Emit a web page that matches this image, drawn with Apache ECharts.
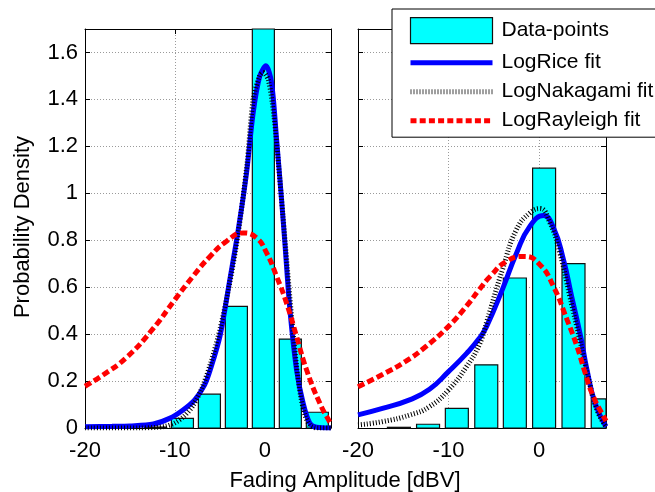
<!DOCTYPE html>
<html>
<head>
<meta charset="utf-8">
<script src="https://cdn.jsdelivr.net/npm/echarts@6/dist/echarts.min.js"></script>
<style>html,body{margin:0;padding:0;background:#fff;}#c{width:655px;height:492px;}</style>
</head>
<body>
<div id="c"></div>
<script>
// ---- data ----
var xTicks = [-20, -10, 0];
var yTicks = [0, 0.2, 0.4, 0.6, 0.8, 1, 1.2, 1.4, 1.6];

var leftBinCenters = [-12.17, -9.17, -6.17, -3.17, -0.17, 2.83, 5.83];
var leftBinHeights = [0.004, 0.041, 0.144, 0.518, 1.9, 0.379, 0.067];

var rightBinCenters = [-15.48, -12.26, -9.08, -5.83, -2.67, 0.56, 3.81, 7.04];
var rightBinHeights = [0.003, 0.016, 0.084, 0.269, 0.639, 1.107, 0.700, 0.124];

var leftRiceX = [-20, -17, -15, -12.4, -10.6, -9.1, -7.8, -6.7, -6.1, -5, -3.9, -2.96, -2.04, -1.3, -0.56, 0.11, 0.74, 1.3, 1.85, 2.22, 2.78, 3.52, 4.26, 5, 5.74, 7.35];
var leftRiceY = [0.005, 0.007, 0.009, 0.017, 0.041, 0.077, 0.12, 0.184, 0.245, 0.39, 0.632, 0.845, 1.087, 1.344, 1.50, 1.543, 1.472, 1.23, 0.974, 0.789, 0.504, 0.248, 0.105, 0.02, 0.003, 0];

var leftNakaX = [-20, -14, -12, -11, -10, -9, -8, -7, -6, -5, -4, -3, -2, -1.3, -0.6, -0.2, 0.4, 1.0, 1.5, 2.0, 2.5, 3.0, 3.5, 4.0, 4.5, 5.0, 5.5, 6, 7.35];
var leftNakaY = [0, 0, 0.003, 0.008, 0.022, 0.05, 0.095, 0.17, 0.28, 0.42, 0.6, 0.82, 1.12, 1.40, 1.5, 1.515, 1.48, 1.33, 1.13, 0.91, 0.68, 0.46, 0.27, 0.13, 0.05, 0.012, 0.002, 0, 0];

var leftRayX = [-20, -18, -15.4, -12.5, -10, -8, -6.1, -4.26, -2.41, -0.93, 0.19, 1.3, 2.41, 3.52, 4.63, 6.11, 7.2, 7.35];
var leftRayY = [0.178, 0.226, 0.30, 0.42, 0.547, 0.646, 0.731, 0.796, 0.831, 0.81, 0.746, 0.646, 0.532, 0.39, 0.248, 0.105, 0.027, 0.02];

var rightRiceX = [-20, -17.3, -14.3, -12.1, -10, -8, -6.6, -5.8, -4, -2.5, -1, 0.5, 1.6, 2.7, 3.6, 4.6, 5.3, 6.2, 7.4];
var rightRiceY = [0.056, 0.084, 0.12, 0.165, 0.24, 0.318, 0.382, 0.432, 0.595, 0.744, 0.86, 0.905, 0.853, 0.717, 0.561, 0.39, 0.248, 0.105, 0.006];

var rightNakaX = [-20, -17.3, -14.3, -12.1, -10, -8, -6.6, -5.8, -4, -2.5, -1, 0.1, 1.2, 2.3, 3.4, 4.5, 5.5, 6.4, 7.4];
var rightNakaY = [0.013, 0.027, 0.055, 0.091, 0.162, 0.262, 0.355, 0.45, 0.68, 0.845, 0.917, 0.935, 0.874, 0.746, 0.561, 0.376, 0.205, 0.077, 0.006];

var rightRayX = [-20, -17.3, -14.7, -12.5, -10, -8, -6.6, -5.4, -3.6, -1.6, 0.1, 1.6, 3.1, 4.2, 5.1, 6.0, 7.15, 7.4];
var rightRayY = [0.176, 0.228, 0.285, 0.347, 0.433, 0.52, 0.59, 0.646, 0.71, 0.731, 0.696, 0.603, 0.461, 0.347, 0.234, 0.134, 0.048, 0.03];

var legendNames = ['Data-points', 'LogRice fit', 'LogNakagami fit', 'LogRayleigh fit'];

// ---- helpers ----
function pairs(xs, ys) { return xs.map(function (x, i) { return [x, ys[i]]; }); }
var FONT = 'Liberation Sans, Arial, Helvetica, sans-serif';
var gridLine = { show: true, lineStyle: { color: '#9a9a9a', type: [1, 2], width: 1 } };
var axLine = { show: true, onZero: false, lineStyle: { color: '#000', width: 1 } };
var axTick = { show: true, inside: true, length: 5, lineStyle: { color: '#000' } };

function xAx(grid, max, pos, labels) {
  return {
    type: 'value', gridIndex: grid, min: -20, max: max, interval: 10, position: pos,
    axisLine: axLine, axisTick: axTick,
    axisLabel: labels ? {
      show: true, fontSize: 22, color: '#000', fontFamily: FONT, margin: 12,
      showMaxLabel: false,
      formatter: function (v) { return xTicks.indexOf(v) >= 0 ? String(v) : ''; }
    } : { show: false },
    splitLine: labels ? gridLine : { show: false }
  };
}
function yAx(grid, pos, labels, grids) {
  return {
    type: 'value', gridIndex: grid, min: 0, max: 1.7, interval: 0.2, position: pos,
    axisLine: axLine, axisTick: axTick,
    axisLabel: labels ? {
      show: true, fontSize: 22, color: '#000', fontFamily: FONT, margin: 7,
      showMaxLabel: false,
      formatter: function (v) {
        var r = Math.round(v * 10) / 10;
        return yTicks.indexOf(r) >= 0 ? String(r) : '';
      }
    } : { show: false },
    splitLine: grids ? gridLine : { show: false }
  };
}

var barFill = { fill: '#00FFFF', stroke: '#111', lineWidth: 1.2 };
function barSeries(xi, yi, cx, hy, binW) {
  return {
    name: 'Data-points', type: 'custom', xAxisIndex: xi, yAxisIndex: yi, z: 2,
    data: pairs(cx, hy),
    itemStyle: { color: '#00FFFF', borderColor: '#111', borderWidth: 1.2 },
    renderItem: function (params, api) {
      var c = api.value(0), h = api.value(1);
      var p1 = api.coord([c - binW / 2, h]);
      var p2 = api.coord([c + binW / 2, 0]);
      var cs = params.coordSys;
      var shape = echarts.graphic.clipRectByRect(
        { x: p1[0], y: p1[1], width: p2[0] - p1[0], height: p2[1] - p1[1] },
        { x: cs.x, y: cs.y, width: cs.width, height: cs.height });
      return shape && { type: 'rect', shape: shape, style: barFill };
    }
  };
}
function lineSeries(name, xi, yi, xs, ys, style, z, sm) {
  return { name: name, type: 'line', xAxisIndex: xi, yAxisIndex: yi, data: pairs(xs, ys),
    showSymbol: false, symbol: 'none', smooth: sm, clip: true, lineStyle: style, itemStyle: { color: style.color }, z: z };
}
var riceStyle = { color: '#0000FF', width: 5 };
var nakaStyle = { color: '#000000', width: 5, type: [1, 2], cap: 'butt' };
var rayStyle = { color: '#FF0000', width: 5, type: [7, 3.5], cap: 'butt' };
var hidden = { opacity: 0 };

var option = {
  animation: false,
  backgroundColor: '#fff',
  textStyle: { fontFamily: FONT },
  grid: [
    { left: 85, top: 29, width: 246, height: 399 },
    { left: 358, top: 29, width: 248, height: 399 }
  ],
  xAxis: [
    xAx(0, 7.35, 'bottom', true), xAx(0, 7.35, 'top', false),
    xAx(1, 7.4, 'bottom', true), xAx(1, 7.4, 'top', false)
  ],
  yAxis: [
    yAx(0, 'left', true, true), yAx(0, 'right', false, false),
    yAx(1, 'left', false, true), yAx(1, 'right', false, false)
  ],
  legend: {
    orient: 'vertical', left: 392, top: 9,
    itemWidth: 82, itemHeight: 26, itemGap: 8,
    padding: [8, 3, 6, 16],
    backgroundColor: '#fff', borderColor: '#000', borderWidth: 1, borderRadius: 0,
    textStyle: { fontSize: 21, color: '#000', fontFamily: FONT, padding: [0, 0, 0, 4] },
    data: [
      { name: legendNames[0], icon: 'rect', itemStyle: { color: '#00FFFF', borderColor: '#111', borderWidth: 1.2, opacity: 1 } },
      { name: legendNames[1], itemStyle: hidden, lineStyle: { color: '#0000FF', width: 5, type: 'solid', opacity: 1 } },
      { name: legendNames[2], itemStyle: hidden, lineStyle: { color: '#000000', width: 5, type: [1, 2], cap: 'butt', opacity: 0.75 } },
      { name: legendNames[3], itemStyle: hidden, lineStyle: { color: '#FF0000', width: 5, type: [6, 3.2], cap: 'butt', opacity: 1 } }
    ],
    selectedMode: false, z: 20
  },
  graphic: [
    { type: 'text', x: 23, y: 227, rotation: Math.PI / 2,
      style: { text: 'Probability Density', fontSize: 22, fontFamily: FONT, fill: '#000', align: 'center', verticalAlign: 'middle' } },
    { type: 'text', x: 345, y: 481,
      style: { text: 'Fading Amplitude [dBV]', fontSize: 22, fontFamily: FONT, fill: '#000', align: 'center', verticalAlign: 'middle' } }
  ],
  series: [
    barSeries(0, 0, leftBinCenters, leftBinHeights, 2.45),
    lineSeries(legendNames[1], 0, 0, leftRiceX, leftRiceY, riceStyle, 3, 0.3),
    lineSeries(legendNames[2], 0, 0, leftNakaX, leftNakaY, nakaStyle, 4, 0.3),
    lineSeries(legendNames[3], 0, 0, leftRayX, leftRayY, rayStyle, 5, 0.5),
    barSeries(2, 2, rightBinCenters, rightBinHeights, 2.54),
    lineSeries(legendNames[1], 2, 2, rightRiceX, rightRiceY, riceStyle, 3, 0.5),
    lineSeries(legendNames[2], 2, 2, rightNakaX, rightNakaY, nakaStyle, 4, 0.5),
    lineSeries(legendNames[3], 2, 2, rightRayX, rightRayY, rayStyle, 5, 0.5)
  ]
};
var chart = echarts.init(document.getElementById('c'), null, { renderer: 'canvas' });
chart.setOption(option);
</script>
</body>
</html>
